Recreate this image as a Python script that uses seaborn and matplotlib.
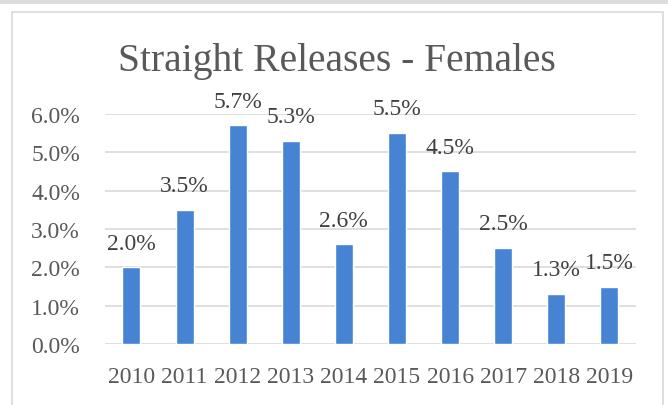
import matplotlib
matplotlib.use("Agg")
import matplotlib.pyplot as plt
import seaborn as sns
import pandas as pd
from matplotlib.patches import Rectangle

years = ["2010", "2011", "2012", "2013", "2014", "2015", "2016", "2017", "2018", "2019"]
rates = [2.0, 3.5, 5.7, 5.3, 2.6, 5.5, 4.5, 2.5, 1.3, 1.5]
labels = ["2.0%", "3.5%", "5.7%", "5.3%", "2.6%", "5.5%", "4.5%", "2.5%", "1.3%", "1.5%"]
yticks = [0, 1, 2, 3, 4, 5, 6]

df = pd.DataFrame({"year": years, "rate": rates})

sns.set_style("white")
plt.rcParams["font.family"] = ["Liberation Serif", "DejaVu Serif"]
txt = "#595959"

fig = plt.figure(figsize=(6.68, 4.06), dpi=100)
ax = fig.add_axes([0.157, 0.150, 0.795, 0.567])

sns.barplot(data=df, x="year", y="rate", color="#4684D3", width=0.34,
            saturation=1, ax=ax)

ax.set_ylim(0, 6)
ax.set_yticks(yticks)
ax.set_yticklabels([f"{t:.1f}%" for t in yticks], fontsize=17, color=txt)
ax.set_xticks(range(len(years)))
ax.set_xticklabels(years, fontsize=17, color=txt)
ax.tick_params(axis="both", length=0)
ax.tick_params(axis="x", pad=16)
ax.tick_params(axis="y", pad=18)
ax.set_xlabel("")
ax.set_ylabel("")
ax.yaxis.grid(True, color="#D9D9D9", linewidth=1.2)
ax.set_axisbelow(True)
for s in ax.spines.values():
    s.set_visible(False)

for i, (v, lab) in enumerate(zip(rates, labels)):
    ax.annotate(lab, (i, v), xytext=(0, 13.5), textcoords="offset points",
                ha="center", va="baseline", fontsize=17, color="#404040",
                annotation_clip=False)

fig.text(0.505, 0.848, "Straight Releases - Females", ha="center", va="center",
         fontsize=28.5, color=txt)

# chart frame like the Excel border
fig.patches.append(Rectangle((12 / 668, -0.01), 651 / 668, 1 - 13 / 406 + 0.01,
                             transform=fig.transFigure, fill=False,
                             edgecolor="#D9D9D9", linewidth=1.2))
fig.patches.append(Rectangle((0, 1 - 5 / 406), 1, 5 / 406,
                             transform=fig.transFigure, facecolor="#DCDCDC",
                             edgecolor="none"))

fig.savefig("out.png", dpi=100)
